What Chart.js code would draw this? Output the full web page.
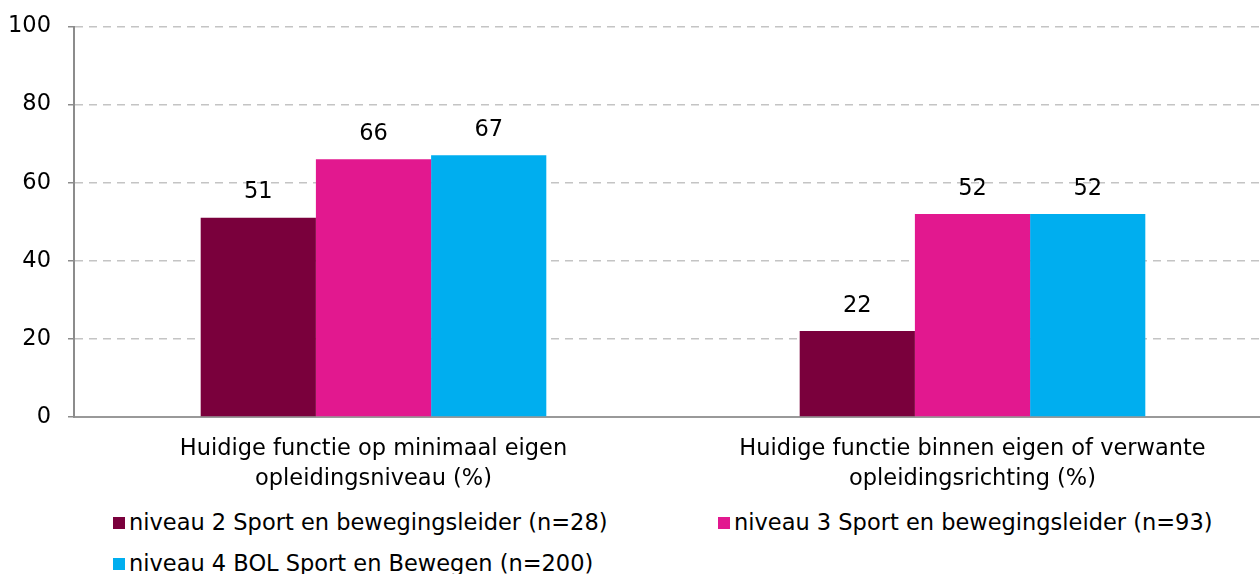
<!DOCTYPE html>
<html lang="nl">
<head>
<meta charset="UTF-8">
<title>Huidige functie</title>
<style>
  html, body { margin: 0; padding: 0; background: #fff; overflow: hidden; }
  body { width: 1260px; height: 574px; position: relative; font-family: "DejaVu Sans", sans-serif; }
  #chart { position: absolute; left: 0; top: -4px; }
  .legend-item { position: absolute; font-size: 22.5px; color: #000; white-space: nowrap; line-height: 26px; }
  .legend-item .box { display: inline-block; width: 12px; height: 12px; margin-right: 4px; vertical-align: 1px; }
</style>
</head>
<body>
<canvas id="chart" width="1272" height="500"></canvas>
<div id="legend"></div>

<script src="https://cdn.jsdelivr.net/npm/chart.js"></script>
<script>
const categories = [
  ['Huidige functie op minimaal eigen', 'opleidingsniveau (%)'],
  ['Huidige functie binnen eigen of verwante', 'opleidingsrichting (%)']
];
const seriesNames = [
  'niveau 2 Sport en bewegingsleider (n=28)',
  'niveau 3 Sport en bewegingsleider (n=93)',
  'niveau 4 BOL Sport en Bewegen (n=200)'
];
const niveau2 = [51, 22];
const niveau3 = [66, 52];
const niveau4 = [67, 52];
const seriesColors = ['#7A003C', '#E2188F', '#00AEEF'];
const yTicks = [0, 20, 40, 60, 80, 100];

const FONT = '"DejaVu Sans", sans-serif';
const FSIZE = 22.5;

// waarden boven de staven
const valueLabels = {
  id: 'valueLabels',
  afterDatasetsDraw(chart) {
    const ctx = chart.ctx;
    ctx.save();
    ctx.font = FSIZE + 'px ' + FONT;
    ctx.fillStyle = '#000';
    ctx.textAlign = 'center';
    ctx.textBaseline = 'bottom';
    chart.data.datasets.forEach((ds, i) => {
      chart.getDatasetMeta(i).data.forEach((bar, j) => {
        ctx.fillText(ds.data[j], bar.x, bar.y - 14);
      });
    });
    ctx.restore();
  }
};

const allSeries = [niveau2, niveau3, niveau4];

new Chart(document.getElementById('chart'), {
  type: 'bar',
  data: {
    labels: categories,
    datasets: allSeries.map((d, i) => ({
      label: seriesNames[i],
      data: d,
      backgroundColor: seriesColors[i],
      borderWidth: 0,
      barPercentage: 1,
      categoryPercentage: 0.577
    }))
  },
  options: {
    responsive: false,
    animation: false,
    layout: { padding: { top: 22, right: 0, left: 0, bottom: 0 } },
    plugins: {
      legend: { display: false },
      tooltip: { enabled: false }
    },
    scales: {
      x: {
        grid: { display: false, drawTicks: false },
        border: { color: '#999999', width: 2 },
        ticks: {
          color: '#000',
          font: { family: FONT, size: FSIZE, lineHeight: 1.3 },
          padding: 18,
          maxRotation: 0,
          autoSkip: false
        },
        afterFit(scale) { scale.height = 79; }
      },
      y: {
        min: 0,
        max: 100,
        afterBuildTicks(scale) { scale.ticks = yTicks.map(v => ({ value: v })); },
        grid: {
          color: '#c4c4c4',
          lineWidth: 1.5,
          tickLength: 6,
          tickColor: '#8c8c8c',
          tickBorderDash: []
        },
        border: { color: '#8c8c8c', width: 2, dash: [8, 6] },
        ticks: {
          color: '#000',
          font: { family: FONT, size: FSIZE },
          padding: 17
        },
        afterFit(scale) { scale.width = 74; }
      }
    }
  },
  plugins: [valueLabels]
});

// legenda
const legendPos = [[113, 509], [718, 509], [113, 550]];
const legend = document.getElementById('legend');
seriesNames.forEach((name, i) => {
  const item = document.createElement('div');
  item.className = 'legend-item';
  item.style.left = legendPos[i][0] + 'px';
  item.style.top = legendPos[i][1] + 'px';
  item.innerHTML = '<span class="box" style="background:' + seriesColors[i] + '"></span>' + name;
  legend.appendChild(item);
});
</script>
</body>
</html>
